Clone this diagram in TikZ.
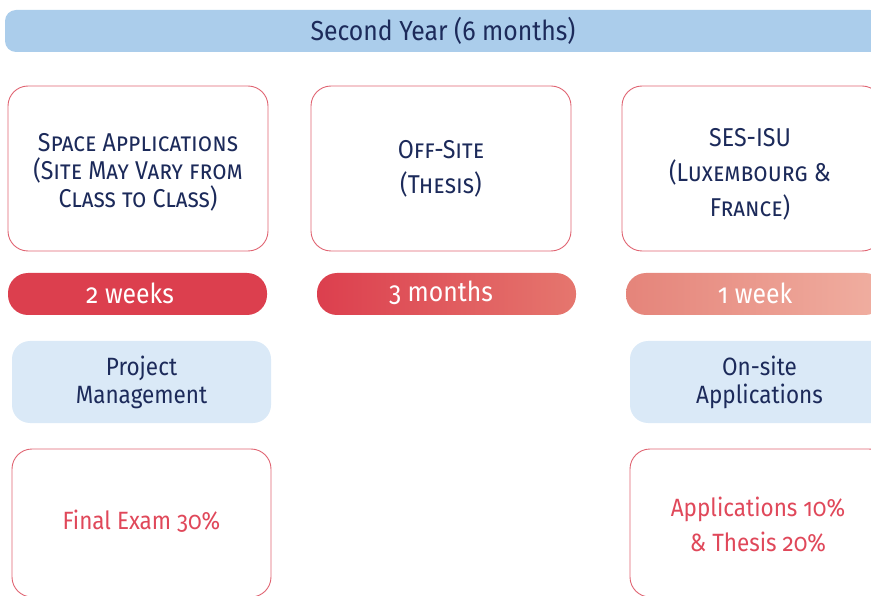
\documentclass[tikz,border=0pt]{standalone}
\usepackage{fontspec}
\setmainfont{Fira Sans}[Numbers=OldStyle, FakeStretch=0.9]
\definecolor{navy}{HTML}{1C2A5A}
\definecolor{barblue}{HTML}{ABCDEB}
\definecolor{lightblue}{HTML}{DAE9F7}
\definecolor{redline}{HTML}{E06472}
\definecolor{redtext}{HTML}{E0485A}
\definecolor{redA}{HTML}{DC3F4E}
\definecolor{redB}{HTML}{E5766E}
\definecolor{redC}{HTML}{E5847A}
\definecolor{redD}{HTML}{F0AFA1}
\tikzset{
  bar/.style={fill=barblue, rounded corners=11pt, minimum width=876pt, minimum height=42pt, text=navy, font=\fontsize{27.5}{30}\selectfont, inner sep=0pt},
  sitebox/.style={draw=redline, line width=0.9pt, fill=white, rounded corners=20pt, minimum width=260pt, minimum height=165pt, inner sep=0pt},
  sitetext/.style={text=navy, align=center, inner sep=0pt},
  pill/.style={rounded corners=20pt, minimum width=259pt, minimum height=42pt, inner sep=0pt},
  pilltext/.style={text=white, font=\fontsize{27.5}{30}\selectfont, inner sep=0pt},
  subjbox/.style={fill=lightblue, rounded corners=18pt, minimum width=259pt, minimum height=82pt, text=navy, align=center, font=\fontsize{25}{28}\selectfont, inner sep=0pt},
  evalbox/.style={draw=redline, line width=0.9pt, fill=white, rounded corners=20pt, minimum width=259pt, minimum height=148pt, inner sep=0pt},
  evaltext/.style={text=redtext, align=center, font=\fontsize{25}{35}\selectfont, inner sep=0pt}
}
\begin{document}
\begin{tikzpicture}[x=1pt,y=-1pt]
\useasboundingbox (0,0) rectangle (871,596);
\node[bar] (year) at (443,31) {Second Year (6 months)};
% site boxes
\node[sitebox] (site1) at (138,168.5) {};
\node[sitebox] (site2) at (441,168.5) {};
\node[sitebox] (site3) at (752,168.5) {};
\node[sitetext, font=\fontsize{25.8}{28}\selectfont] (site1t) at (138,172.5) {\scshape Space Applications\\\scshape (Site May Vary from\\\scshape Class to Class)};
\node[sitetext, font=\fontsize{25.8}{35}\selectfont] (site2t) at (441,168.5) {\scshape Off-Site\\\scshape (Thesis)};
\node[sitetext, font=\fontsize{25.8}{35}\selectfont] (site3t) at (750,174.5) {SES-ISU\\\scshape (Luxembourg \&\\\scshape France)};
% duration pills
\node[pill, fill=redA] (dur1) at (137.5,294) {};
\node[pill, left color=redA, right color=redB] (dur2) at (446.5,294) {};
\node[pill, left color=redC, right color=redD] (dur3) at (755.5,294) {};
\node[pilltext] (dur1t) at (130,293) {2 weeks};
\node[pilltext] (dur2t) at (441,293) {3 months};
\node[pilltext] (dur3t) at (755,293) {1 week};
% subjects
\node[subjbox] (subj1) at (141.5,382) {Project\\Management};
\node[subjbox] (subj3) at (759.5,382) {On-site\\Applications};
% evaluation
\node[evalbox] (eval1) at (141.5,523) {};
\node[evalbox] (eval3) at (759.5,523) {};
\node[evaltext] (eval1t) at (141.5,521) {Final Exam 30\%};
\node[evaltext] (eval3t) at (758,525) {Applications 10\%\\\& Thesis 20\%};
\end{tikzpicture}
\end{document}
